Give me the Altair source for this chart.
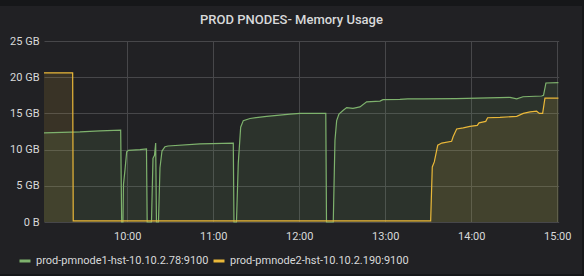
import altair as alt
import pandas as pd

DAY = "2020-01-01T"

chart_title = "PROD PNODES- Memory Usage"
series_names = ["prod-pmnode1-hst-10.10.2.78:9100", "prod-pmnode2-hst-10.10.2.190:9100"]
series_colors = ["#7eb26d", "#eab839"]

g_time = ["09:01:54", "09:27:00", "09:41:00", "09:55:24", "09:56:06", "09:57:00", "09:57:21", "09:58:24",
          "09:59:35", "10:00:50", "10:08:52", "10:13:24", "10:13:53", "10:16:53", "10:17:56", "10:19:00",
          "10:19:49", "10:20:22", "10:21:46", "10:22:49", "10:24:13", "10:26:18", "10:28:24", "10:50:43",
          "11:13:58", "11:14:26", "11:16:11", "11:17:26", "11:19:07", "11:20:56", "11:25:36", "11:37:16",
          "11:53:31", "12:00:30", "12:18:30", "12:19:00", "12:23:43", "12:24:54", "12:26:05", "12:27:41",
          "12:30:29", "12:33:04", "12:37:28", "12:42:20", "12:47:00", "12:56:18", "12:58:24", "13:10:12",
          "13:15:48", "13:26:18", "13:49:18", "14:27:00", "14:31:42", "14:36:06", "14:49:06", "14:50:24",
          "14:52:06", "15:00:48"]
g_val = [12.3, 12.45, 12.6, 12.7, 0, 0, 5.2, 7.2,
         9.7, 9.9, 10.0, 10.1, 0, 0, 8.8, 9.2,
         10.9, 0, 0, 7.5, 9.8, 10.4, 10.5, 10.8,
         10.9, 0, 0, 8.1, 13.1, 14.0, 14.3, 14.6,
         14.9, 15.0, 15.0, 0, 0, 11.3, 14.0, 14.9,
         15.4, 15.8, 15.7, 15.9, 16.6, 16.7, 16.9, 16.95,
         17.0, 17.0, 17.05, 17.2, 17.0, 17.3, 17.4, 17.5,
         19.2, 19.25]

y_time = ["09:01:54", "09:21:54", "09:22:18", "13:31:40", "13:32:48", "13:34:12", "13:36:36", "13:39:24",
          "13:46:18", "13:47:24", "13:49:48", "13:54:24", "13:59:06", "14:04:12", "14:05:24", "14:10:06",
          "14:11:24", "14:20:00", "14:31:42", "14:36:18", "14:41:00", "14:45:36", "14:47:30", "14:49:48",
          "14:51:24", "15:00:48"]
y_val = [20.6, 20.6, 0.15, 0.15, 7.6, 8.3, 10.6, 10.9,
         11.15, 11.8, 12.85, 13.0, 13.2, 13.35, 13.7, 13.9,
         14.4, 14.45, 14.6, 15.0, 15.2, 15.3, 15.0, 15.0,
         17.1, 17.1]

y_ticks = [0, 5, 10, 15, 20, 25]
x_tick_hours = [10, 11, 12, 13, 14, 15]

rows = []
for i, (times, vals) in enumerate([(g_time, g_val), (y_time, y_val)]):
    for t, v in zip(times, vals):
        rows.append({"time": DAY + t, "value": v, "series": series_names[i]})
df = pd.DataFrame(rows)


def dt(h, m=0, s=0):
    return alt.DateTime(year=2020, month=1, date=1, hours=h, minutes=m, seconds=s)


FONT = "Roboto"
TXT = "#d8d9da"
GRID = "#47474a"

x_enc = alt.X("time:T",
              scale=alt.Scale(domain=[dt(9, 1, 54), dt(15, 1, 0)]),
              axis=alt.Axis(title=None, format="%H:%M", values=[dt(h) for h in x_tick_hours],
                            grid=True, gridColor=GRID, ticks=False, domain=False,
                            labelPadding=8, labelFontSize=11, labelColor=TXT, labelFont=FONT,
                            labelFlush=False))
y_axis = alt.Axis(title=None, values=y_ticks, grid=True, gridColor=GRID, ticks=False,
                  domain=False, labelPadding=5, labelFontSize=11, labelColor=TXT,
                  labelFont=FONT,
                  labelExpr="datum.value == 0 ? '0 B' : datum.value + ' GB'")
y_scale = alt.Scale(domain=[0, 25], nice=False)
color_scale = alt.Scale(domain=series_names, range=series_colors)

legend = alt.Legend(title=None, orient="none", legendX=-26, legendY=213,
                    direction="horizontal", symbolType="stroke", symbolSize=121,
                    symbolStrokeWidth=3, symbolOpacity=1, labelFontSize=11, labelColor=TXT,
                    labelFont=FONT, labelOffset=4, columnPadding=-2, padding=0, labelLimit=400)

base = alt.Chart(df)

area = base.mark_area(opacity=0.12, interpolate="linear").encode(
    x=x_enc,
    y=alt.Y("value:Q", scale=y_scale, axis=y_axis, stack=None),
    color=alt.Color("series:N", scale=color_scale, legend=legend),
)

line = base.mark_line(strokeWidth=1.2, interpolate="linear").encode(
    x=x_enc,
    y=alt.Y("value:Q", scale=y_scale, axis=y_axis),
    color=alt.Color("series:N", scale=color_scale, legend=legend),
)

# panel frame decorations (dark page strips around the panel) and the panel title
frame_df = pd.DataFrame({"k": [0]})
strip_top = alt.Chart(frame_df).mark_rect(color="#161719").encode(
    x=alt.value(-44), x2=alt.value(540), y=alt.value(-41), y2=alt.value(-35))
strip_right = alt.Chart(frame_df).mark_rect(color="#161719").encode(
    x=alt.value(538), x2=alt.value(540), y=alt.value(-41), y2=alt.value(235))
strip_bottom = alt.Chart(frame_df).mark_rect(color="#161719").encode(
    x=alt.value(-44), x2=alt.value(540), y=alt.value(233), y2=alt.value(235))
title_text = alt.Chart(frame_df).mark_text(
    text=chart_title, font=FONT, fontSize=13, fontWeight=500, color=TXT,
    align="center", baseline="alphabetic").encode(x=alt.value(247.5), y=alt.value(-17))

chart = alt.layer(strip_top, strip_right, strip_bottom, title_text, area, line).properties(
    width=514.7, height=181,
    autosize=alt.AutoSizeParams(type="none"),
    padding={"left": 44, "top": 41, "right": 25.3, "bottom": 54},
    background="#212124",
).configure_view(stroke=None)

chart.save("out.html", embed_options={"renderer": "svg", "actions": False})
